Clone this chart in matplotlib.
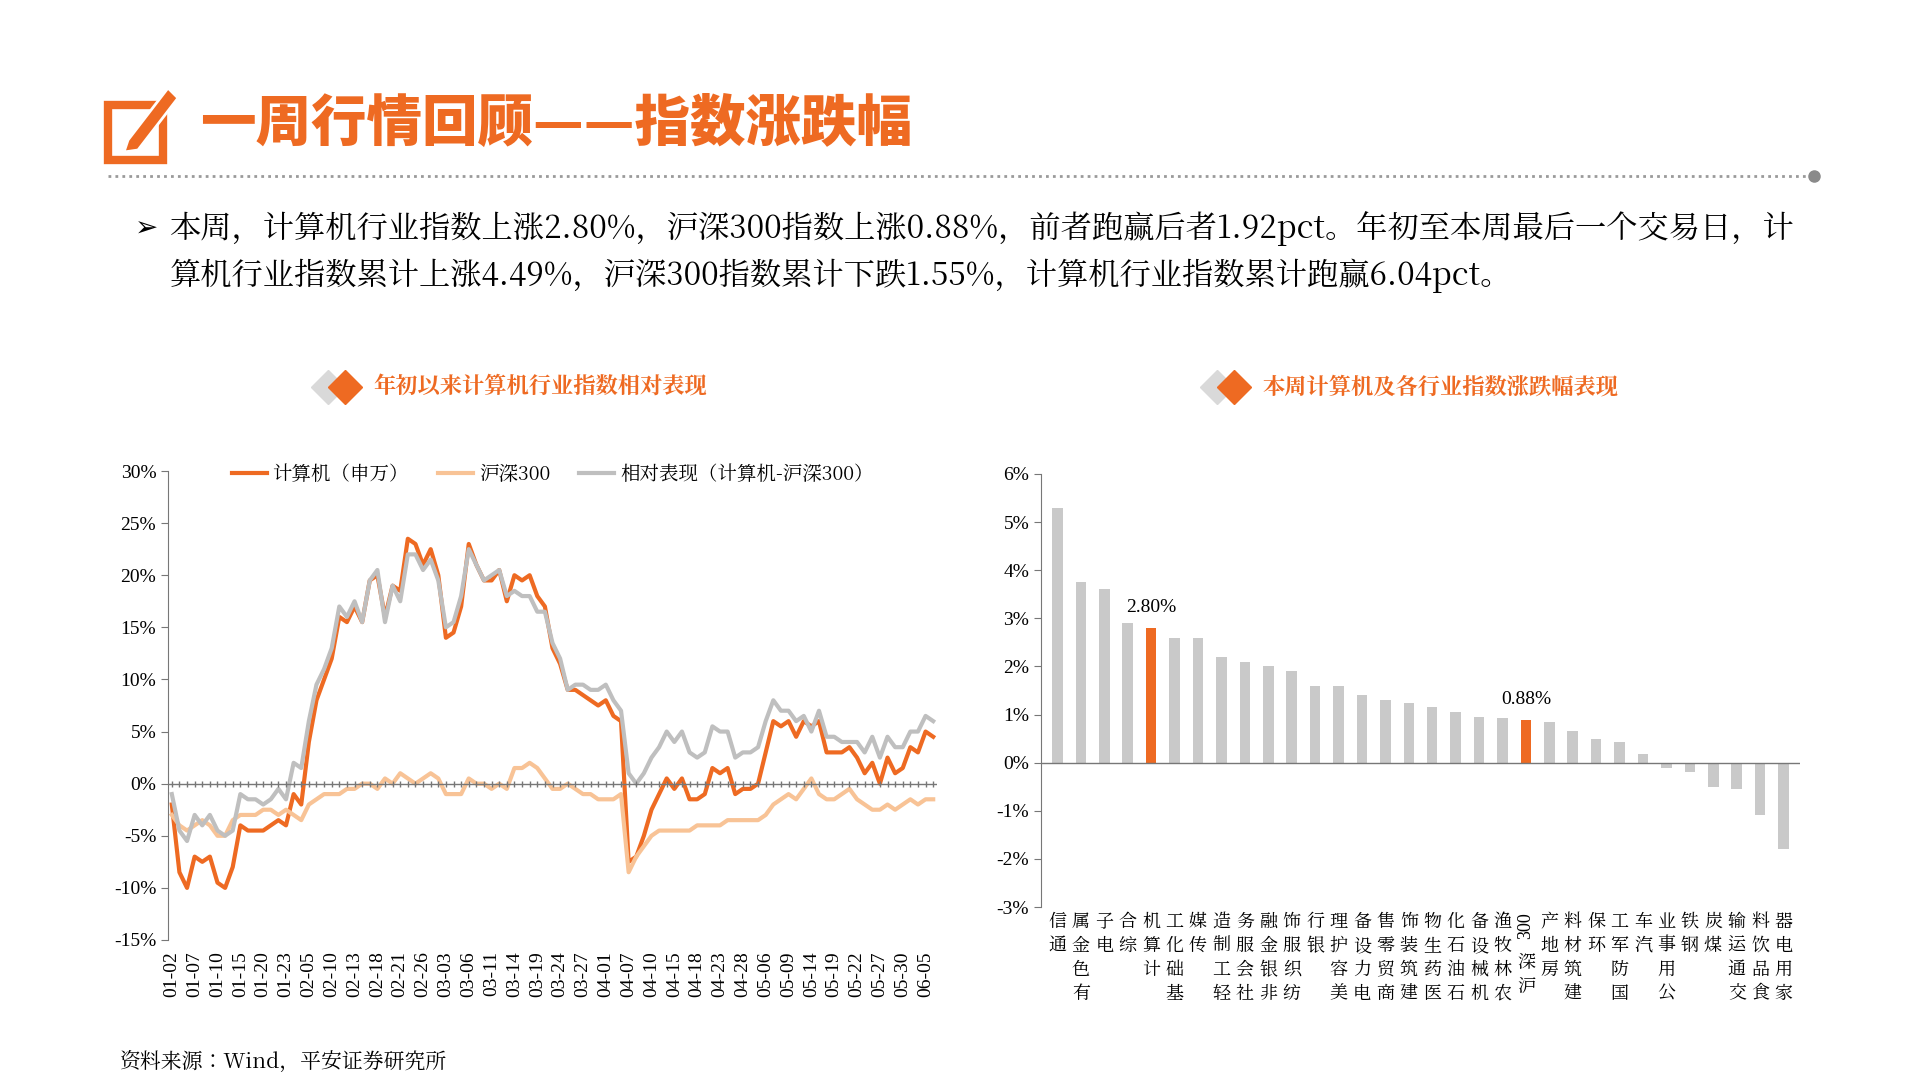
import matplotlib
matplotlib.use("Agg")
import matplotlib.pyplot as plt
from matplotlib import font_manager as fm
from matplotlib.patches import Rectangle, Polygon
import numpy as np

SERIF_F = '/usr/share/fonts/opentype/noto/NotoSerifCJK-Regular.ttc'
BLACK_F = '/usr/share/fonts/opentype/noto/NotoSansCJK-Black.ttc'
BOLD_F = '/usr/share/fonts/opentype/noto/NotoSerifCJK-Bold.ttc'
fm.fontManager.addfont(SERIF_F)
SERIF_NAME = fm.FontProperties(fname=SERIF_F).get_name()
plt.rcParams['font.family'] = [SERIF_NAME, 'DejaVu Sans']
FP_TITLE = fm.FontProperties(fname=BLACK_F, size=40)
FP_SUB = fm.FontProperties(fname=BOLD_F, size=16)

dates = ["01-02","01-03","01-06","01-07","01-08","01-09","01-10","01-13","01-14","01-15","01-16","01-17",
 "01-20","01-21","01-22","01-23","01-24","01-27","02-05","02-06","02-07","02-10","02-11","02-12",
 "02-13","02-14","02-17","02-18","02-19","02-20","02-21","02-24","02-25","02-26","02-27","02-28",
 "03-03","03-04","03-05","03-06","03-07","03-10","03-11","03-12","03-13","03-14","03-17","03-18",
 "03-19","03-20","03-21","03-24","03-25","03-26","03-27","03-28","03-31","04-01","04-02","04-03",
 "04-07","04-08","04-09","04-10","04-11","04-14","04-15","04-16","04-17","04-18","04-21","04-22",
 "04-23","04-24","04-25","04-28","04-29","04-30","05-06","05-07","05-08","05-09","05-12","05-13",
 "05-14","05-15","05-16","05-19","05-20","05-21","05-22","05-23","05-26","05-27","05-28","05-29",
 "05-30","06-03","06-04","06-05","06-06"]
computer = [-2,-8.5,-10, -7,-7.5,-7, -9.5,-10,-8, -4,-4.5,-4.5, -4.5,-4,-3.5, -4,-1,-2,
 4,8,10, 12,16,15.5, 17,15.5,19.5, 20,16,19, 18.5,23.5,23, 21,22.5,20, 14,14.5,17, 23,21,19.5,
 19.5,20.5,17.5, 20,19.5,20, 18,17,13, 11.5,9,9, 8.5,8,7.5, 8,6.5,6, -7.5,-7,-5, -2.5,-1,0.5,
 -0.5,0.5,-1.5, -1.5,-1,1.5, 1,1.5,-1, -0.5,-0.5,0, 3,6,5.5, 6,4.5,6, 5.5,6,3, 3,3,3.5,
 2.5,1,2, 0,2.5,1, 1.5,3.5,3, 5,4.5]
hs300 = [-3,-4,-4.5, -4,-3.5,-4, -5,-5,-3.5, -3,-3,-3, -2.5,-2.5,-3, -2.5,-3,-3.5,
 -2,-1.5,-1, -1,-1,-0.5, -0.5,0,0, -0.5,0.5,0, 1,0.5,0, 0.5,1,0.5, -1,-1,-1, 0.5,0,0,
 -0.5,0,-0.5, 1.5,1.5,2, 1.5,0.5,-0.5, -0.5,0,-0.5, -1,-1,-1.5, -1.5,-1.5,-1, -8.5,-7,-6,
 -5,-4.5,-4.5, -4.5,-4.5,-4.5, -4,-4,-4, -4,-3.5,-3.5, -3.5,-3.5,-3.5, -3,-2,-1.5, -1,-1.5,-0.5,
 0.5,-1,-1.5, -1.5,-1,-0.5, -1.5,-2,-2.5, -2.5,-2,-2.5, -2,-1.5,-2, -1.5,-1.5]
relative = [-1,-4.5,-5.5, -3,-4,-3, -4.5,-5,-4.5, -1,-1.5,-1.5, -2,-1.5,-0.5, -1.5,2,1.5,
 6,9.5,11, 13,17,16, 17.5,15.5,19.5, 20.5,15.5,19, 17.5,22,22, 20.5,21.5,19.5, 15,15.5,18,
 22.5,21,19.5, 20,20.5,18, 18.5,18,18, 16.5,16.5,13.5, 12,9,9.5, 9.5,9,9, 9.5,8,7, 1,0,1,
 2.5,3.5,5, 4,5,3, 2.5,3,5.5, 5,5,2.5, 3,3,3.5, 6,8,7, 7,6,6.5, 5,7,4.5, 4.5,4,4,
 4,3,4.5, 2.5,4.5,3.5, 3.5,5,5, 6.5,6]

industries = ["通信","有色金属","电子","综合","计算机","基础化工","传媒","轻工制造","社会服务","非银金融",
 "纺织服饰","银行","美容护理","电力设备","商贸零售","建筑装饰","医药生物","石油石化","机械设备","农林牧渔",
 "沪深300","房地产","建筑材料","环保","国防军工","汽车","公用事业","钢铁","煤炭","交通运输","食品饮料","家用电器"]
weekly = [5.3,3.75,3.6,2.9,2.80,2.6,2.6,2.2,2.1,2.0,1.9,1.6,1.6,1.4,1.3,1.25,1.15,1.05,0.95,0.92,
 0.88,0.85,0.65,0.5,0.42,0.18,-0.12,-0.2,-0.5,-0.55,-1.08,-1.8]

ORANGE = '#EE6A22'
fig = plt.figure(figsize=(19.2, 10.8), dpi=100)
fig.patch.set_facecolor('white')

# header icon
fig.patches.append(Rectangle((108/1920, 1-160/1080), 55/1920, 55/1080, fill=False, lw=6,
                             edgecolor=ORANGE, transform=fig.transFigure))
fig.patches.append(Polygon([[128/1920, 1-140/1080], [168/1920, 1-88/1080], [178/1920, 1-98/1080],
                            [138/1920, 1-150/1080], [124/1920, 1-152/1080]], closed=True,
                           facecolor=ORANGE, edgecolor='white', lw=2, transform=fig.transFigure))
fig.text(200/1920, 1-124/1080, "一周行情回顾——指数涨跌幅", fontproperties=FP_TITLE,
         color=ORANGE, va='center', ha='left')
fig.add_artist(plt.Line2D([108/1920, 1810/1920], [1-176/1080]*2, transform=fig.transFigure,
                          color='#9a9a9a', lw=2, ls=(0, (1, 1.5))))
fig.add_artist(plt.Line2D([1814/1920], [1-176/1080], transform=fig.transFigure, marker='o',
                          color='#8a8a8a', ms=8))
fig.text(135/1920, 1-229/1080, "➢", fontsize=20, va='center', family='DejaVu Sans')
fig.text(170/1920, 1-229/1080, "本周，计算机行业指数上涨2.80%，沪深300指数上涨0.88%，前者跑赢后者1.92pct。年初至本周最后一个交易日，计",
         fontsize=22.5, va='center')
fig.text(170/1920, 1-276/1080, "算机行业指数累计上涨4.49%，沪深300指数累计下跌1.55%，计算机行业指数累计跑赢6.04pct。",
         fontsize=22.5, va='center')

def subtitle(x, text):
    y = 1-387/1080
    fig.add_artist(plt.Line2D([x-45/1920], [y], transform=fig.transFigure, marker='D', color='#D9D9D9', ms=17))
    fig.add_artist(plt.Line2D([x-28/1920], [y], transform=fig.transFigure, marker='D', color=ORANGE, ms=17))
    fig.text(x, y, text, fontproperties=FP_SUB, color=ORANGE, va='center')
subtitle(373/1920, "年初以来计算机行业指数相对表现")
subtitle(1262/1920, "本周计算机及各行业指数涨跌幅表现")

# left chart
ax = fig.add_axes([168/1920, 1-940/1080, 769/1920, 469/1080])
x = np.arange(len(dates))
ax.plot(x, computer, color=ORANGE, lw=3, label='计算机（申万）')
ax.plot(x, hs300, color='#F8C396', lw=3, label='沪深300')
ax.plot(x, relative, color='#BFBFBF', lw=3, label='相对表现（计算机-沪深300）')
ax.axhline(0, color='#777777', lw=1)
ax.plot(x, np.zeros(len(x)), ls='none', marker='|', color='#777777', ms=5)
ax.set_ylim(-15, 30)
ax.set_yticks(range(-15, 31, 5))
ax.set_yticklabels([f"{v}%" for v in range(-15, 31, 5)], family='Liberation Serif', fontsize=14)
ax.set_xlim(-0.5, len(x) - 0.5)
ax.set_xticks(x[::3])
ax.set_xticklabels(dates[::3], rotation=90, family='Liberation Serif', fontsize=14)
ax.tick_params(axis='x', length=0, pad=8)
ax.tick_params(axis='y', length=5, color='#777777', direction='out')
for s in ['top', 'right', 'bottom']:
    ax.spines[s].set_visible(False)
ax.spines['left'].set_color('#777777')
ax.legend(loc='upper left', bbox_to_anchor=(0.06, 1.05), ncol=3, frameon=False, fontsize=14,
          handlelength=1.8, columnspacing=1.5, handletextpad=0.3)

# right chart
ax2 = fig.add_axes([1041/1920, 1-907/1080, 759/1920, 433/1080])
xb = np.arange(len(industries))
colors = [ORANGE if n in ("计算机", "沪深300") else '#C9C9C9' for n in industries]
ax2.bar(xb, weekly, width=0.45, color=colors)
for i, n in enumerate(industries):
    if n in ("计算机", "沪深300"):
        ax2.text(i, weekly[i] + 0.25, f"{weekly[i]:.2f}%", ha='center', va='bottom',
                 family='Liberation Serif', fontsize=14)
ax2.axhline(0, color='#777777', lw=1)
ax2.set_ylim(-3, 6)
ax2.set_yticks(range(-3, 7))
ax2.set_yticklabels([f"{v}%" for v in range(-3, 7)], family='Liberation Serif', fontsize=14)
ax2.set_xlim(-0.7, len(industries) - 0.3)
ax2.set_xticks(xb)
ax2.set_xticklabels([''] * len(industries))
ax2.tick_params(axis='x', length=0)

def stack(name):
    chars = list(name.replace("300", ""))
    return "\n".join(chars[::-1])

for i, n in enumerate(industries):
    if n.endswith("300"):
        ax2.text(i, -3.1, "300", rotation=90, ha='center', va='top', fontsize=13,
                 family='Liberation Serif')
        ax2.text(i, -3.95, stack(n), ha='center', va='top', fontsize=13, linespacing=1.25)
    else:
        ax2.text(i, -3.1, stack(n), ha='center', va='top', fontsize=13, linespacing=1.25)
ax2.tick_params(axis='y', length=5, color='#777777')
for s in ['top', 'right', 'bottom']:
    ax2.spines[s].set_visible(False)
ax2.spines['left'].set_color('#777777')

fig.text(120/1920, 1-1062/1080, "资料来源：Wind，平安证券研究所", fontsize=15, va='center')
fig.savefig("out.png", dpi=100)
